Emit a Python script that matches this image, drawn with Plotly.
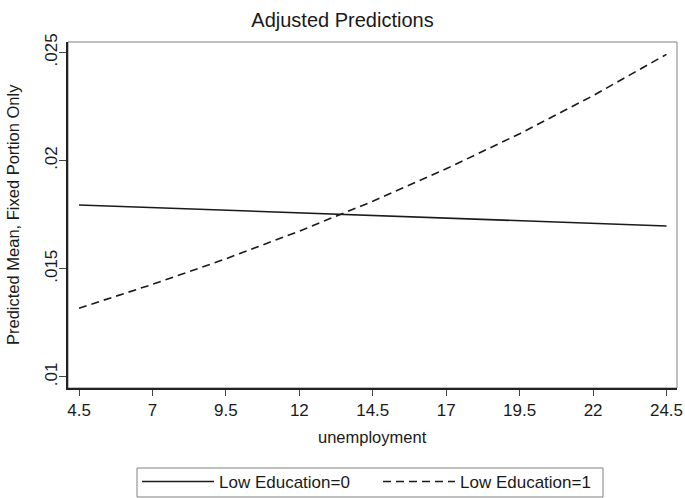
import plotly.graph_objects as go

# Adjusted predictions at fixed unemployment values
unemployment = [4.5, 7, 9.5, 12, 14.5, 17, 19.5, 22, 24.5]
low_edu_0 = [0.01795, 0.01783, 0.01771, 0.01759, 0.01747, 0.01735, 0.01722, 0.01710, 0.01698]
low_edu_1 = [0.01318, 0.01428, 0.01546, 0.01674, 0.01812, 0.01962, 0.02124, 0.02300, 0.02491]

x_ticks = [4.5, 7, 9.5, 12, 14.5, 17, 19.5, 22, 24.5]
x_tick_text = ["4.5", "7", "9.5", "12", "14.5", "17", "19.5", "22", "24.5"]
y_ticks = [0.01, 0.015, 0.02, 0.025]
y_tick_text = [".01", ".015", ".02", ".025"]

FONT = "Liberation Sans, Arial, Helvetica, sans-serif"
INK = "#1a1a1a"
FRAME = "#808080"

# figure geometry (px)
W, H = 685, 498
L, R, T, B = 68, 8, 42, 110
PW, PH = W - L - R, H - T - B

fig = go.Figure()
fig.add_trace(go.Scatter(
    x=unemployment, y=low_edu_0, mode="lines", name="Low Education=0",
    line=dict(color=INK, width=1.6),
))
fig.add_trace(go.Scatter(
    x=unemployment, y=low_edu_1, mode="lines", name="Low Education=1",
    line=dict(color=INK, width=1.6, dash="8px,5px"),
))

# plot region outline (top/right)
fig.add_shape(type="rect", xref="paper", yref="paper", x0=0, y0=0, x1=1, y1=1,
              line=dict(color=FRAME, width=1), layer="below")

# legend frame below the x axis title
fig.add_shape(type="rect", xref="paper", yref="paper",
              x0=(137 - L) / PW, x1=(603 - L) / PW,
              y0=(H - B - 497) / PH, y1=(H - B - 468) / PH,
              line=dict(color=FRAME, width=1), fillcolor="rgba(0,0,0,0)")

fig.update_layout(
    template="none",
    width=W, height=H,
    margin=dict(l=L, r=R, t=T, b=B, autoexpand=False),
    paper_bgcolor="white", plot_bgcolor="white",
    font=dict(family=FONT, color=INK, size=17),
    title=dict(text="Adjusted Predictions", x=0.5, xref="container", xanchor="center",
               y=1 - 20 / H, yref="container", yanchor="middle",
               font=dict(size=20, color=INK)),
    showlegend=True,
    legend=dict(orientation="h", x=(378 - L) / PW, xanchor="center",
                y=(H - 482) / H, yref="container", yanchor="middle",
                borderwidth=0, bgcolor="rgba(0,0,0,0)",
                itemwidth=72, entrywidth=154,
                font=dict(size=17, color=INK),
                tracegroupgap=0, itemclick=False),
    xaxis=dict(range=[4.125, 24.857], tickvals=x_ticks, ticktext=x_tick_text,
               ticks="outside", ticklen=6, tickcolor="#444", tickwidth=1,
               showline=True, linecolor="#222", linewidth=1.6, automargin=False,
               showgrid=False, zeroline=False, tickfont=dict(size=17)),
    yaxis=dict(range=[0.00949, 0.02548], tickvals=y_ticks, ticktext=y_tick_text,
               tickangle=-90, ticks="outside", ticklen=7, tickcolor="#444", tickwidth=1,
               ticklabelstandoff=-5,
               showline=True, linecolor="#222", linewidth=1.6, automargin=False,
               showgrid=False, zeroline=False, tickfont=dict(size=17)),
    annotations=[
        dict(text="unemployment", x=0.5, xref="paper", y=0, yref="paper",
             xanchor="center", yanchor="middle", yshift=-49, showarrow=False,
             font=dict(size=16.5, color=INK)),
        dict(text="Predicted Mean, Fixed Portion Only", x=0, xref="paper", y=0.5,
             yref="paper", xanchor="center", yanchor="middle", xshift=-55,
             textangle=-90, showarrow=False, font=dict(size=16.5, color=INK)),
    ],
)

fig.write_html("out.html")
